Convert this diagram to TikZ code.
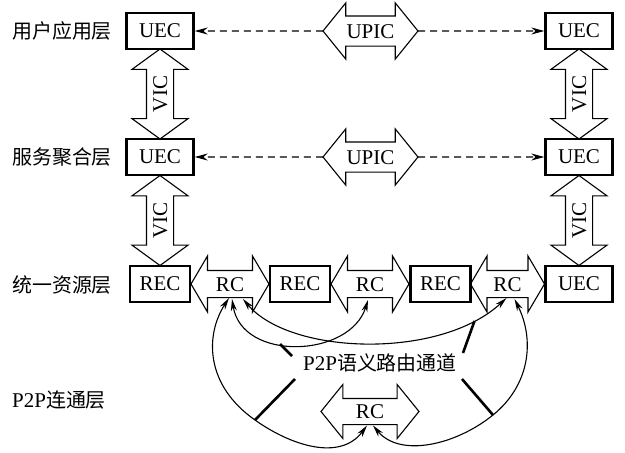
\documentclass[tikz,border=0pt]{standalone}
\usepackage{fontspec}
\setmainfont{Liberation Serif}
\newfontfamily\cjk[Scale=0.95]{Noto Sans CJK SC}
\usepackage{tikz}
\usetikzlibrary{arrows.meta, shapes.arrows, calc}
\tikzset{
  box/.style     ={rectangle, draw, line width=2.4pt, minimum width=67pt, minimum height=36pt,
                   inner sep=0pt, font=\fontsize{21}{24}\selectfont},
  recbox/.style  ={box, minimum width=60pt},
  dblarr/.style  ={double arrow, draw, line width=1.1pt, inner xsep=1pt, outer sep=0pt,
                   text height=14pt, text depth=0pt, double arrow head extend=14.5pt,
                   font=\fontsize{21}{24}\selectfont},
  vic/.style     ={dblarr, rotate=90, inner ysep=6pt, double arrow tip angle=108, minimum height=90pt},
  rc/.style      ={dblarr, inner ysep=6pt, double arrow tip angle=119, minimum height=78pt},
  upic/.style    ={dblarr, inner ysep=7.5pt, double arrow head extend=13pt,
                   double arrow tip angle=102, minimum height=95pt},
  layer/.style   ={anchor=west, inner sep=0pt, font=\fontsize{21}{24}\selectfont},
  dasharr/.style ={-{Stealth[length=13pt, width=7pt]}, line width=1.2pt, dash pattern=on 7pt off 5pt},
  route/.style   ={{Stealth[length=12pt, width=6pt]}-{Stealth[length=12pt, width=6pt]}, line width=1.1pt},
  leader/.style  ={line width=2.6pt},
}

\begin{document}
\begin{tikzpicture}[x=1pt, y=-1pt]
\useasboundingbox (0,0) rectangle (625,453);

% layers
\node[layer] (layU) at (12,31)  {{\cjk 用户应用层}};
\node[layer] (layS) at (12,157) {{\cjk 服务聚合层}};
\node[layer] (layR) at (12,285) {{\cjk 统一资源层}};
\node[layer] (layP) at (12,400) {P2P{\cjk 连通层}};

% entities
\node[box] (uecUa) at (160,31)  {UEC};
\node[box] (uecUb) at (579,31)  {UEC};
\node[box] (uecSa) at (160,157) {UEC};
\node[box] (uecSb) at (579,157) {UEC};
\node[recbox] (rec1) at (160,284)   {REC};
\node[recbox] (rec2) at (300,284)   {REC};
\node[recbox] (rec3) at (440.5,284) {REC};
\node[box] (uecR) at (579,284) {UEC};

% channels
\node[vic] (vicL1) at (160,94)    {VIC};
\node[vic] (vicL2) at (160,220.5) {VIC};
\node[vic] (vicR1) at (579,94)    {VIC};
\node[vic] (vicR2) at (579,220.5) {VIC};
\node[upic] (upicU) at (370.5,31)  {UPIC};
\node[upic] (upicS) at (370.5,157) {UPIC};
\node[rc] (rc1) at (230,284)   {RC};
\node[rc] (rc2) at (370,284)   {RC};
\node[rc, minimum height=74pt] (rc3) at (507.5,284) {RC};
\node[rc, inner ysep=5.5pt, double arrow head extend=14pt, double arrow tip angle=102,
      minimum height=98pt] (rcP) at (370,411.5) {RC};

\draw[dasharr] (upicU.west) -- (uecUa.east);
\draw[dasharr] (upicU.east) -- (uecUb.west);
\draw[dasharr] (upicS.west) -- (uecSa.east);
\draw[dasharr] (upicS.east) -- (uecSb.west);

% routing channel
\node[inner sep=0pt, font=\fontsize{21}{24}\selectfont] (route) at (380,363) {P2P{\cjk 语义路由通道}};
\coordinate (lowL) at (255,420);
\coordinate (lowR) at (493,415);
\coordinate (hitA) at (280,344);
\coordinate (hitB) at (474.5,321);

\draw[route] ($(rc1.center)+(2,15)$) .. controls (242,362) and (350,358) .. ($(rc2.center)+(-2,16)$);
\draw[route] ($(rc1.center)+(13,15)$) .. controls (290,355) and (440,360) .. ($(rc3.center)+(-1,14)$);
\draw[route] ($(rc1.center)+(-1,14)$) .. controls (205,335) and (205,385) .. (lowL)
  .. controls (290,445) and (340,462) .. ($(rcP.center)+(-3,14)$);
\draw[route] ($(rc3.center)+(7,15)$) .. controls (535,340) and (530,385) .. (lowR)
  .. controls (456,445) and (400,458) .. ($(rcP.center)+(3,14)$);

\draw[leader] ($(route.center)+(-88,-7)$) -- (hitA);
\draw[leader] ($(route.center)+(-85,16)$) -- (lowL);
\draw[leader] ($(route.center)+(83,-10)$) -- (hitB);
\draw[leader] ($(route.center)+(82,16)$) -- (lowR);
\end{tikzpicture}
\end{document}
